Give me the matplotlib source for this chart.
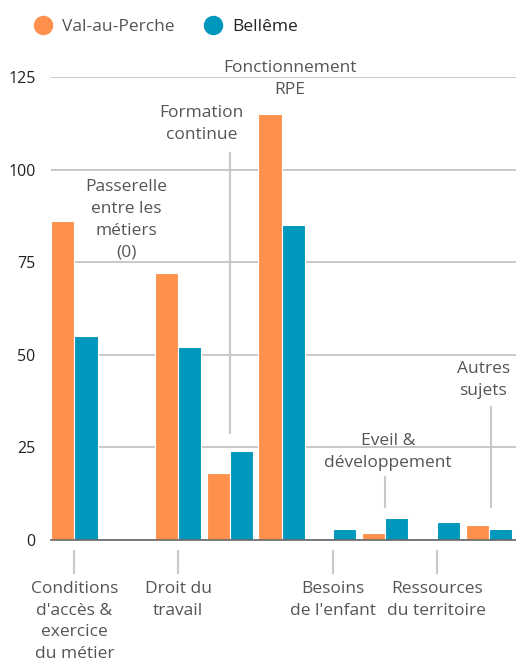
import matplotlib.pyplot as plt
from matplotlib.lines import Line2D

plt.rcParams['font.family'] = ['Open Sans', 'DejaVu Sans']

# données
categories = ["Conditions\nd'accès &\nexercice\ndu métier", "Passerelle\nentre les\nmétiers\n(0)",
              "Droit du\ntravail", "Formation\ncontinue", "Fonctionnement\nRPE",
              "Besoins\nde l'enfant", "Eveil &\ndéveloppement", "Ressources\ndu territoire",
              "Autres\nsujets"]
val_au_perche = [86, 0, 72, 18, 115, 0, 2, 0, 4]
belleme = [55, 0, 52, 24, 85, 3, 6, 5, 3]
series_names = ['Val-au-Perche', 'Bellême']
yticks = [0, 25, 50, 75, 100, 125]

orange = '#FF914D'
teal = '#0097BD'
txt = '#555555'

fig = plt.figure(figsize=(5.16, 6.61), dpi=100)
ax = fig.add_axes([0.0988, 0.183, 0.9012, 0.7005])

x = list(range(len(categories)))
w = 0.445
ax.bar([i - w / 2 for i in x], val_au_perche, width=w, color=orange, edgecolor='white', linewidth=0.8, zorder=3)
ax.bar([i + w / 2 for i in x], belleme, width=w, color=teal, edgecolor='white', linewidth=0.8, zorder=3)

ax.set_xlim(-0.454, 8.53)
ax.set_ylim(0, 125)
ax.set_yticks(yticks)
ax.set_xticks([])
ax.tick_params(axis='y', length=0, labelsize=11.5, labelcolor='#222222', pad=11)
ax.grid(axis='y', color='#c4c4c4', linewidth=1.3, zorder=0)
for s in ['top', 'right', 'left']:
    ax.spines[s].set_visible(False)
ax.spines['bottom'].set_color('#666666')
ax.spines['bottom'].set_linewidth(1.2)
ax.spines['bottom'].set_zorder(4)

fs = 12.5
ls = 1.48
# libellés en bas
for i in [0, 2, 5, 7]:
    ax.plot([i, i], [-3, -9], color='#c8c8c8', linewidth=1.5, clip_on=False)
    ax.text(i, -11.0, categories[i], ha='center', va='top', fontsize=fs, color=txt,
            linespacing=ls, clip_on=False)

# libellés en haut : (x, y du haut, segment vertical)
top_labels = {1: (1.0, 97.4, None), 3: (2.45, 117.5, (104.5, 29.0)),
              4: (4.16, 129.5, None), 6: (6.06, 28.8, (17, 9)),
              8: (7.9, 48.3, (36, 9))}
for i, (lx, ly, seg) in top_labels.items():
    ax.text(lx, ly, categories[i], ha='center', va='top', fontsize=fs, color=txt,
            linespacing=ls, clip_on=False)
    if seg:
        sx = i + (0.04 if i == 8 else 0)
        ax.plot([sx, sx], [seg[0], seg[1]], color='#c8c8c8', linewidth=1.5, zorder=2)

handles = [Line2D([], [], marker='o', linestyle='', markersize=13, color=c) for c in [orange, teal]]
leg = fig.legend(handles, series_names, loc='upper left', bbox_to_anchor=(0.02, 0.995), ncol=2,
                 frameon=False, fontsize=12.5, handletextpad=0.1, columnspacing=1.2)
leg.get_texts()[0].set_color(txt)
leg.get_texts()[1].set_color('#222222')

fig.savefig('out.png', dpi=100)
